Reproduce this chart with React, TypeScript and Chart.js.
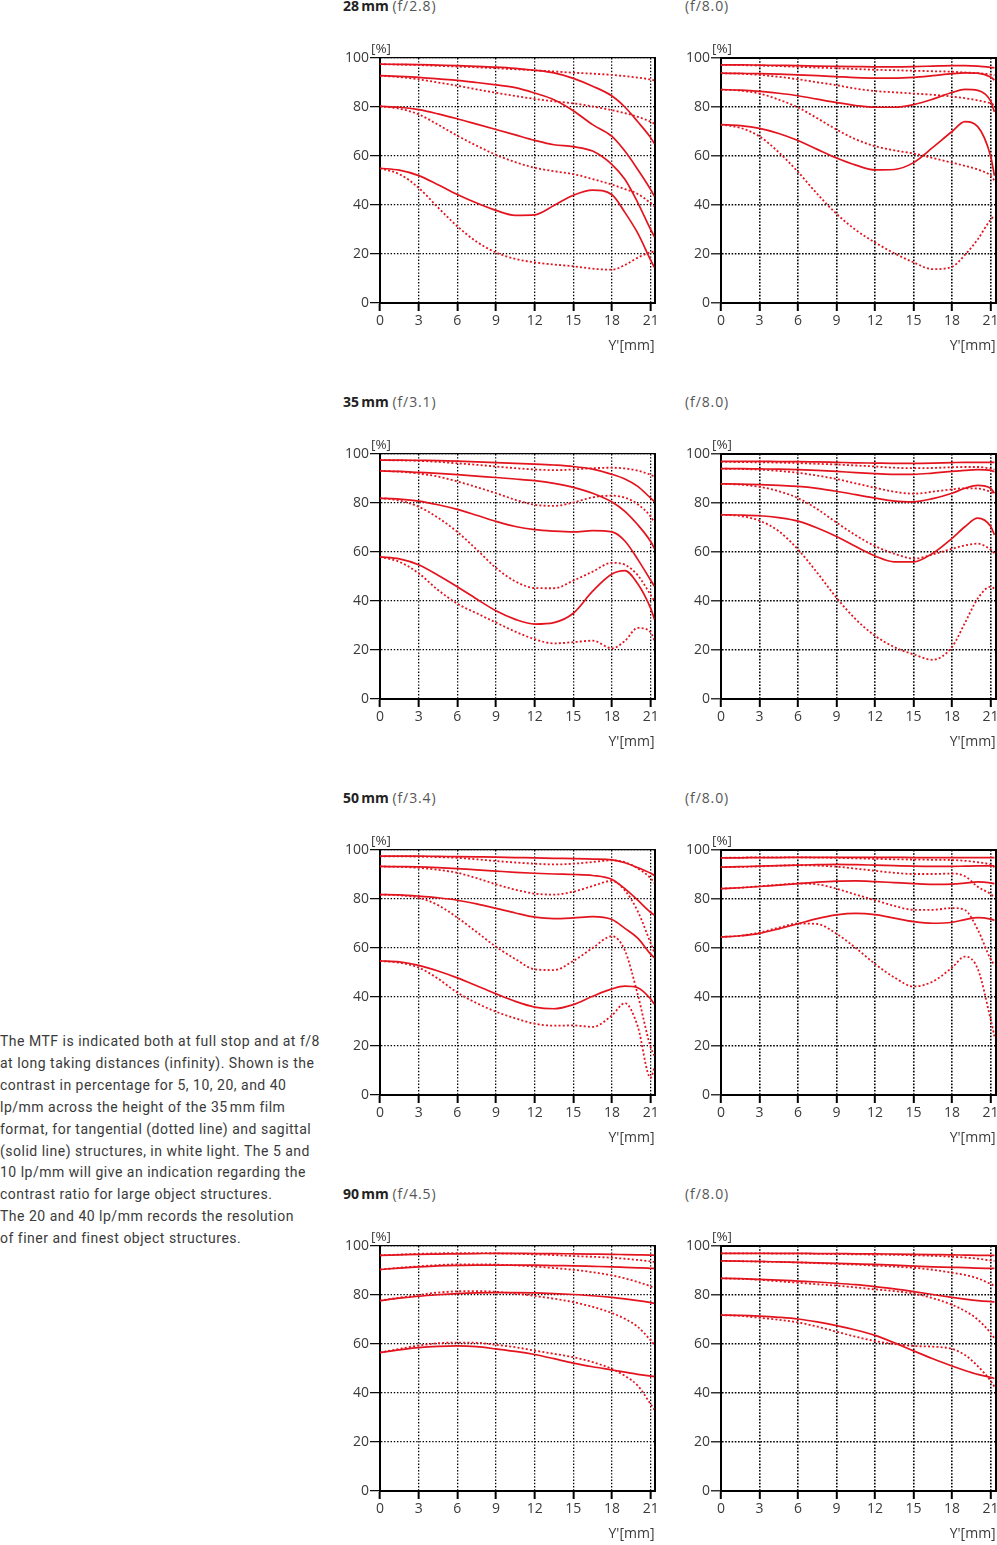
import React, { useEffect, useRef } from 'react';
import { Chart, registerables } from 'chart.js';

Chart.register(...registerables);

// ---------- shared axes ----------
const X_MM = [0, 1.5, 3, 4.5, 6, 7.5, 9, 10.5, 12, 13.5, 15, 16.5, 18, 19, 20, 21, 21.3];
const X_TICKS = [0, 3, 6, 9, 12, 15, 18, 21];
const Y_TICKS = [0, 20, 40, 60, 80, 100];
const FREQUENCIES = ['5 lp/mm', '10 lp/mm', '20 lp/mm', '40 lp/mm'];

// ---------- 28 mm ----------
const M28_F28_SAGITTAL = [
  [97.5, 97.4, 97.3, 97.1, 96.9, 96.6, 96.3, 95.8, 95.0, 93.9, 91.7, 88.5, 84.5, 80, 74, 67.5, 65],
  [92.8, 92.5, 92.1, 91.5, 90.9, 90.0, 89.0, 87.9, 85.7, 83.0, 78.5, 72.8, 68, 62, 54.5, 46.3, 43.5],
  [80.3, 79.9, 78.9, 77.2, 75.2, 73, 70.8, 68.6, 66.4, 64.6, 63.8, 62, 56.5, 50.5, 41, 30, 27],
  [55, 54.2, 52, 48.3, 44.3, 40.8, 37.8, 35.8, 36, 39.8, 44, 46.1, 44.2, 37, 28.5, 17.5, 14.5],
];
const M28_F28_TANGENTIAL = [
  [97.5, 97.3, 97.1, 96.8, 96.5, 96.2, 95.8, 95.4, 95, 94.5, 94, 93.6, 93.1, 92.6, 92, 91.2, 90.8],
  [92.8, 92.2, 91.3, 90, 88.7, 87.2, 85.8, 84.5, 83.3, 82.3, 81.5, 80.2, 78.7, 77.5, 76, 74, 73.2],
  [80.3, 79.3, 77, 72.8, 68.3, 64.2, 60.5, 57.5, 55.2, 53.8, 52.6, 50.6, 48.3, 46.5, 44.5, 40.8, 39.5],
  [55, 52.6, 47, 39, 31.3, 25, 20.6, 18, 16.6, 15.7, 15, 14, 13.6, 15.5, 18.5, 20.7, 21],
];
const M28_F8_SAGITTAL = [
  [97.2, 97.2, 97.1, 97, 96.9, 96.7, 96.6, 96.5, 96.4, 96.4, 96.5, 96.7, 96.9, 96.9, 96.7, 96.2, 96],
  [93.8, 93.7, 93.6, 93.4, 93.1, 92.8, 92.4, 92, 91.8, 91.8, 92.1, 92.8, 93.6, 93.9, 93.8, 92.2, 91],
  [87.1, 86.9, 86.4, 85.6, 84.6, 83.2, 81.8, 80.6, 79.9, 79.9, 81, 83.2, 85.9, 87.2, 86.8, 82.5, 78],
  [72.8, 72.4, 71.3, 69.2, 66.3, 62.7, 59.2, 56.3, 54.3, 54.5, 57.3, 63.5, 70, 74, 72, 60, 52],
];
const M28_F8_TANGENTIAL = [
  [97.2, 97.1, 96.9, 96.7, 96.4, 96.1, 95.8, 95.5, 95.2, 95, 94.8, 94.6, 94.4, 94.1, 93.8, 93.3, 93],
  [93.8, 93.6, 93.1, 92.3, 91.3, 90.1, 88.9, 87.5, 86.5, 86, 85.5, 85, 84.3, 83.6, 82.7, 81.5, 80.8],
  [87.1, 86.7, 85.5, 83, 79.8, 75.4, 70.8, 66.8, 64, 62.3, 61, 59.2, 57.3, 56, 54.5, 52, 50],
  [72.8, 71.5, 68, 61.5, 53.5, 44.5, 36.4, 29.8, 24.7, 20.3, 16.6, 13.8, 14.8, 19.6, 26, 34, 35.6],
];

// ---------- 35 mm ----------
const M35_F31_SAGITTAL = [
  [97.5, 97.5, 97.4, 97.3, 97.1, 96.8, 96.5, 96.2, 95.9, 95.5, 94.9, 93.8, 91.7, 89.8, 86.8, 82, 80.6],
  [93.1, 92.9, 92.5, 92.1, 91.6, 91, 90.4, 89.8, 89.1, 88, 86.4, 84, 80.4, 76.6, 71.1, 64.3, 61.4],
  [82, 81.6, 80.8, 79.3, 77.4, 75, 72.5, 70.4, 69.1, 68.5, 68.2, 68.7, 68.2, 64.5, 57, 48.5, 46],
  [58, 57.2, 54.8, 50.5, 45.8, 40.8, 36, 32.5, 30.6, 31.2, 35, 44, 51, 52.4, 47, 37, 32.5],
];
const M35_F31_TANGENTIAL = [
  [97.5, 97.4, 97.2, 96.8, 96.2, 95.6, 94.9, 94.2, 93.7, 93.4, 93.7, 94.2, 94.4, 94.1, 93.2, 91.5, 90.8],
  [93.1, 92.8, 92, 90.8, 88.8, 86.5, 84, 81.3, 79.3, 78.8, 80.2, 82.3, 83, 82.2, 79.5, 74.5, 72],
  [82, 81, 78.5, 74, 68.2, 61, 53.5, 48, 45.3, 45.2, 48.3, 52, 55.6, 54.8, 50.5, 42.5, 40],
  [58, 56, 51.3, 44.5, 38.9, 35, 31.2, 27.5, 24.4, 22.7, 23.2, 23.8, 20.7, 23.7, 29, 27.3, 23.7],
];
const M35_F8_SAGITTAL = [
  [97, 97, 97, 96.9, 96.9, 96.8, 96.6, 96.4, 96.3, 96.2, 96.2, 96.3, 96.5, 96.6, 96.6, 96.6, 96.6],
  [94, 94, 93.9, 93.8, 93.6, 93.3, 92.9, 92.4, 92, 91.7, 91.7, 92.2, 92.9, 93.3, 93.6, 93.3, 92.8],
  [87.8, 87.7, 87.5, 87.2, 86.8, 86, 84.8, 83.4, 82, 80.8, 80.5, 81.8, 84, 86, 87.2, 86, 84],
  [75.2, 75.1, 74.8, 74, 72.6, 69.8, 66.3, 62.2, 58.4, 56, 56, 59.5, 65.6, 70.3, 73.8, 70.5, 67],
];
const M35_F8_TANGENTIAL = [
  [96.8, 96.7, 96.6, 96.5, 96.3, 96, 95.7, 95.3, 94.9, 94.4, 94.2, 94.3, 94.6, 94.7, 94.7, 94, 93.6],
  [94, 93.9, 93.6, 93.1, 92.3, 91.2, 89.8, 88, 86.2, 84.6, 83.8, 84.6, 85.6, 86, 85.9, 84.5, 83.5],
  [87.8, 87.5, 86.6, 84.8, 82, 77.5, 72, 66.8, 62.4, 59.3, 57.3, 59, 61.3, 62.7, 63.4, 61, 59.6],
  [75.2, 74.7, 72.8, 68.5, 61, 51.5, 41.3, 32.5, 25.8, 21.2, 18.2, 16, 21.3, 31, 41, 45.8, 45.1],
];

// ---------- 50 mm ----------
const M50_F34_SAGITTAL = [
  [97.5, 97.5, 97.5, 97.4, 97.3, 97.2, 97.1, 96.9, 96.8, 96.6, 96.5, 96.3, 96, 94.8, 92.8, 90.5, 89.6],
  [93.3, 93.2, 93.1, 92.8, 92.4, 91.9, 91.4, 90.9, 90.5, 90.2, 90, 89.6, 88, 84.2, 79.5, 74.5, 73.4],
  [81.8, 81.7, 81.2, 80.5, 79.5, 78, 76.2, 74.3, 72.6, 72, 72.3, 72.8, 71.6, 68, 64, 57.5, 56],
  [54.7, 54.3, 52.9, 50.6, 47.8, 44.6, 41.3, 38.2, 35.9, 35.2, 36.9, 40.3, 43.3, 44.4, 43.8, 39.2, 37],
];
const M50_F34_TANGENTIAL = [
  [97.4, 97.4, 97.3, 97.1, 96.8, 96.2, 95.5, 94.9, 94.4, 94.1, 94.4, 95.1, 95.8, 95, 92.5, 88.5, 86.5],
  [93.3, 93.1, 92.7, 91.9, 90.7, 88.5, 86, 83.8, 82.2, 81.8, 83, 85.3, 87.4, 83.5, 75, 62, 58],
  [81.8, 81.5, 80.5, 77.5, 72.4, 66.5, 60.5, 55.5, 51.3, 51, 54.7, 60, 64.8, 59, 41, 19.5, 16],
  [54.7, 54, 52, 47.5, 41.8, 37.5, 34, 31.3, 29.1, 28.3, 28.4, 27.8, 32.5, 37.5, 28, 7, 11.5],
];
const M50_F8_SAGITTAL = [
  [96.8, 96.8, 96.9, 96.9, 97, 97, 97, 97, 97, 97, 96.9, 96.9, 96.9, 96.9, 96.9, 96.9, 96.9],
  [93, 93.2, 93.4, 93.6, 93.8, 94, 94.1, 94, 93.8, 93.6, 93.4, 93.3, 93.3, 93.4, 93.5, 93.5, 93.5],
  [84.2, 84.6, 85.1, 85.7, 86.3, 86.9, 87.3, 87.4, 87.1, 86.7, 86.3, 86, 86.1, 86.5, 87, 86.6, 86.3],
  [64.5, 65, 66, 67.8, 69.9, 72, 73.5, 74.1, 73.6, 72.2, 70.8, 70.1, 70.5, 71.6, 72.4, 71.8, 71.3],
];
const M50_F8_TANGENTIAL = [
  [96.8, 96.9, 97, 97, 97, 96.9, 96.8, 96.6, 96.4, 96.2, 96.1, 96, 95.9, 95.6, 95, 94, 93],
  [93, 93.1, 93.3, 93.6, 93.8, 93.6, 93.2, 92.4, 91.5, 90.7, 90.2, 90.2, 90.4, 89.3, 85, 82, 80.6],
  [84.2, 84.6, 85.2, 85.8, 86.3, 86, 84.2, 81.8, 79.5, 77.2, 75.6, 75.6, 76.3, 75.5, 67.5, 55.5, 53],
  [64.5, 65, 66.3, 68.3, 70, 69.8, 65.8, 60, 53.5, 48, 44.3, 46.3, 52, 56.5, 51.5, 31, 24],
];

// ---------- 90 mm ----------
const M90_F45_SAGITTAL = [
  [96.2, 96.4, 96.6, 96.7, 96.8, 96.9, 97, 97, 96.9, 96.9, 96.8, 96.7, 96.6, 96.5, 96.4, 96.3, 96.2],
  [90.4, 91, 91.5, 91.9, 92.1, 92.2, 92.2, 92.2, 92.2, 92, 91.9, 91.7, 91.5, 91.3, 91.1, 90.9, 90.8],
  [77.7, 78.7, 79.5, 80.1, 80.6, 80.9, 81, 81, 80.9, 80.6, 80.2, 79.7, 79, 78.4, 77.7, 76.9, 76.6],
  [56.5, 57.6, 58.5, 59, 59.2, 58.9, 58, 57, 55.7, 54, 52.2, 50.7, 49.4, 48.5, 47.6, 46.9, 46.7],
];
const M90_F45_TANGENTIAL = [
  [96.2, 96.5, 96.8, 97, 97.1, 97.1, 97, 96.8, 96.6, 96.3, 95.9, 95.6, 95.2, 94.8, 94.3, 93.7, 93.5],
  [90.4, 91.1, 91.7, 92.2, 92.5, 92.5, 92.4, 92.1, 91.6, 91, 90.3, 89.3, 88, 86.8, 85.3, 83.5, 82.7],
  [77.7, 78.9, 80, 81, 81.5, 81.6, 81.3, 80.6, 79.6, 78.5, 77.1, 75.2, 72.6, 70.3, 67, 61.5, 59.6],
  [56.5, 58, 59.4, 60.3, 60.6, 60.5, 59.7, 58.7, 57.3, 56, 54.6, 52.6, 49.8, 47, 43, 35.5, 33.2],
];
const M90_F8_SAGITTAL = [
  [97, 97, 97, 97, 97, 96.9, 96.9, 96.8, 96.8, 96.7, 96.6, 96.5, 96.4, 96.3, 96.2, 96.2, 96.2],
  [93.9, 93.8, 93.7, 93.5, 93.3, 93.1, 92.9, 92.7, 92.5, 92.2, 91.8, 91.5, 91.3, 91.2, 91, 90.9, 90.9],
  [86.8, 86.7, 86.4, 86.1, 85.7, 85.3, 84.8, 84.2, 83.4, 82.5, 81.4, 80.2, 79, 78.3, 77.7, 77.3, 77.2],
  [71.8, 71.7, 71.4, 70.9, 70.2, 69, 67.5, 65.7, 63.5, 60.5, 57.2, 54, 51, 49.2, 47.6, 46.4, 46],
];
const M90_F8_TANGENTIAL = [
  [97, 97, 97, 96.9, 96.9, 96.8, 96.7, 96.6, 96.5, 96.4, 96.2, 96, 95.6, 95.3, 94.8, 94.1, 93.9],
  [93.9, 93.8, 93.6, 93.5, 93.3, 93, 92.7, 92.4, 92, 91.6, 91.1, 90.3, 89.1, 88.2, 86.8, 84.5, 83.8],
  [86.8, 86.6, 86.2, 85.6, 85, 84.4, 83.8, 83.1, 82.3, 81.6, 80.6, 78.7, 76, 73.5, 70, 64.5, 62.3],
  [71.8, 71.5, 70.7, 69.9, 68.8, 67.1, 65, 63, 61.2, 60, 59.2, 58.9, 58, 55.5, 51, 45, 42.6],
];

const DESCRIPTION_LINES = [
  'The MTF is indicated both at full stop and at f/8',
  'at long taking distances (infinity). Shown is the',
  'contrast in percentage for 5, 10, 20, and 40',
  'lp/mm across the height of the 35\u202Fmm film',
  'format, for tangential (dotted line) and sagittal',
  '(solid line) structures, in white light. The 5 and',
  '10 lp/mm will give an indication regarding the',
  'contrast ratio for large object structures.',
  'The 20 and 40 lp/mm records the resolution',
  'of finer and finest object structures.',
];

type Panel = { focal: string; aperture: string; sag: number[][]; tan: number[][]; col: number; row: number };

const PANELS: Panel[] = [
  { focal: '28\u2009mm', aperture: '(f/2.8)', sag: M28_F28_SAGITTAL, tan: M28_F28_TANGENTIAL, col: 0, row: 0 },
  { focal: '', aperture: '(f/8.0)', sag: M28_F8_SAGITTAL, tan: M28_F8_TANGENTIAL, col: 1, row: 0 },
  { focal: '35\u2009mm', aperture: '(f/3.1)', sag: M35_F31_SAGITTAL, tan: M35_F31_TANGENTIAL, col: 0, row: 1 },
  { focal: '', aperture: '(f/8.0)', sag: M35_F8_SAGITTAL, tan: M35_F8_TANGENTIAL, col: 1, row: 1 },
  { focal: '50\u2009mm', aperture: '(f/3.4)', sag: M50_F34_SAGITTAL, tan: M50_F34_TANGENTIAL, col: 0, row: 2 },
  { focal: '', aperture: '(f/8.0)', sag: M50_F8_SAGITTAL, tan: M50_F8_TANGENTIAL, col: 1, row: 2 },
  { focal: '90\u2009mm', aperture: '(f/4.5)', sag: M90_F45_SAGITTAL, tan: M90_F45_TANGENTIAL, col: 0, row: 3 },
  { focal: '', aperture: '(f/8.0)', sag: M90_F8_SAGITTAL, tan: M90_F8_TANGENTIAL, col: 1, row: 3 },
];

// ---------- layout / style ----------
const RED = '#e3141e';
const TEXT = '#3a3a3a';
const FONT = "'Open Sans', 'DejaVu Sans', sans-serif";
const ROW_TOPS = [58, 454, 850, 1246];
const CANVAS_H = 320;
const AREA_TOP = 20;
const COLS = [
  { left: 340, width: 320, axisW: 40, padRight: 5.5, xMax: 21.3, titleLeft: 343, pctLeft: 371, grid: 1.3, dash: [1.4, 1.8], frame: 1.3 },
  { left: 680, width: 317, axisW: 41, padRight: 1.3, xMax: 21.4, titleLeft: 685, pctLeft: 712, grid: 1.6, dash: [1.6, 1.6], frame: 2 },
];

function buildConfig(p: Panel): any {
  const c = COLS[p.col];
  const datasets: any[] = [];
  p.sag.forEach((ys, i) => {
    datasets.push({
      label: 'sagittal ' + FREQUENCIES[i],
      data: X_MM.map((x, j) => ({ x, y: ys[j] })),
      borderColor: RED,
      borderWidth: 1.7,
      pointRadius: 0,
      tension: 0.4,
      cubicInterpolationMode: 'monotone',
      fill: false,
    });
  });
  p.tan.forEach((ys, i) => {
    datasets.push({
      label: 'tangential ' + FREQUENCIES[i],
      data: X_MM.map((x, j) => ({ x, y: ys[j] })),
      borderColor: RED,
      borderWidth: 1.8,
      borderDash: [2, 2.2],
      pointRadius: 0,
      tension: 0.4,
      cubicInterpolationMode: 'monotone',
      fill: false,
    });
  });
  const tickFont = { family: FONT, size: 14 };
  return {
    type: 'line',
    data: { datasets },
    options: {
      animation: false,
      responsive: false,
      maintainAspectRatio: false,
      events: [],
      layout: { padding: { top: AREA_TOP, bottom: 3.6, left: 0, right: c.padRight } },
      plugins: { legend: { display: false }, tooltip: { enabled: false } },
      scales: {
        x: {
          type: 'linear',
          position: 'bottom',
          min: 0,
          max: c.xMax,
          afterBuildTicks: (s: any) => { s.ticks = X_TICKS.map((v) => ({ value: v })); },
          afterFit: (s: any) => { s.height = 51.4; s.paddingLeft = 0; s.paddingRight = 0; },
          ticks: { color: TEXT, font: tickFont, padding: 2, maxRotation: 0, autoSkip: false },
          grid: { color: '#000', lineWidth: c.grid, tickLength: 8, tickWidth: 2, tickColor: '#000', tickBorderDash: [] },
          border: { display: true, color: '#000', width: 2, dash: c.dash },
          title: { display: true, text: "Y'[mm]", align: 'end', color: TEXT, font: tickFont, padding: { top: 0, bottom: 0 } },
        },
        y: {
          type: 'linear',
          position: 'left',
          min: 0,
          max: 100,
          afterBuildTicks: (s: any) => { s.ticks = Y_TICKS.map((v) => ({ value: v })); },
          afterFit: (s: any) => { s.width = c.axisW; s.paddingTop = 0; s.paddingBottom = 0; },
          ticks: { color: TEXT, font: tickFont, padding: 1 },
          grid: { color: '#000', lineWidth: c.grid, tickLength: 10, tickWidth: 1.2, tickColor: '#000', tickBorderDash: [] },
          border: { display: true, color: '#000', width: 2, dash: c.dash },
        },
        xTop: {
          type: 'linear',
          position: 'top',
          min: 0,
          max: 1,
          ticks: { display: false },
          grid: { display: false, drawTicks: false },
          border: { display: true, color: '#000', width: c.frame },
          afterFit: (s: any) => { s.height = 0; s.paddingLeft = 0; s.paddingRight = 0; },
        },
        yRight: {
          type: 'linear',
          position: 'right',
          min: 0,
          max: 1,
          ticks: { display: false },
          grid: { display: false, drawTicks: false },
          border: { display: true, color: '#000', width: 2 },
          afterFit: (s: any) => { s.width = 0; s.paddingTop = 0; s.paddingBottom = 0; },
        },
      },
    },
  };
}

function MtfPanel({ panel }: { panel: Panel }) {
  const ref = useRef<HTMLCanvasElement>(null);
  useEffect(() => {
    const chart = new Chart(ref.current as HTMLCanvasElement, buildConfig(panel));
    return () => chart.destroy();
  }, [panel]);
  const c = COLS[panel.col];
  const top = ROW_TOPS[panel.row];
  return (
    <>
      <canvas
        ref={ref}
        width={c.width}
        height={CANVAS_H}
        style={{ position: 'absolute', left: c.left, top: top - AREA_TOP, width: c.width, height: CANVAS_H }}
      />
      <div
        style={{
          position: 'absolute', left: c.titleLeft, top: top - 61, height: 18, lineHeight: '18px',
          fontFamily: FONT, fontSize: 14, color: '#555', whiteSpace: 'nowrap',
        }}
      >
        {panel.focal ? <span style={{ fontWeight: 700, color: '#222' }}>{panel.focal}</span> : null}
        {panel.focal ? ' ' : ''}
        <span style={{ letterSpacing: '0.9px' }}>{panel.aperture}</span>
      </div>
      <div
        style={{
          position: 'absolute', left: c.pctLeft, top: top - 19, height: 18, lineHeight: '18px',
          fontFamily: FONT, fontSize: 13.5, color: TEXT, whiteSpace: 'nowrap',
        }}
      >
        [%]
      </div>
    </>
  );
}

export default function App() {
  return (
    <div style={{ position: 'absolute', left: 0, top: 0, width: 997, height: 1545, background: '#fff', overflow: 'hidden' }}>
      <div style={{ position: 'absolute', left: 0, top: 1031, fontFamily: "Roboto, 'Open Sans', sans-serif", fontSize: 14, letterSpacing: '0.5px', lineHeight: '21.9px', color: '#3a3a3a' }}>
        {DESCRIPTION_LINES.map((line, i) => (
          <div key={i} style={{ whiteSpace: 'nowrap' }}>{line}</div>
        ))}
      </div>
      {PANELS.map((p, i) => (
        <MtfPanel key={i} panel={p} />
      ))}
    </div>
  );
}
